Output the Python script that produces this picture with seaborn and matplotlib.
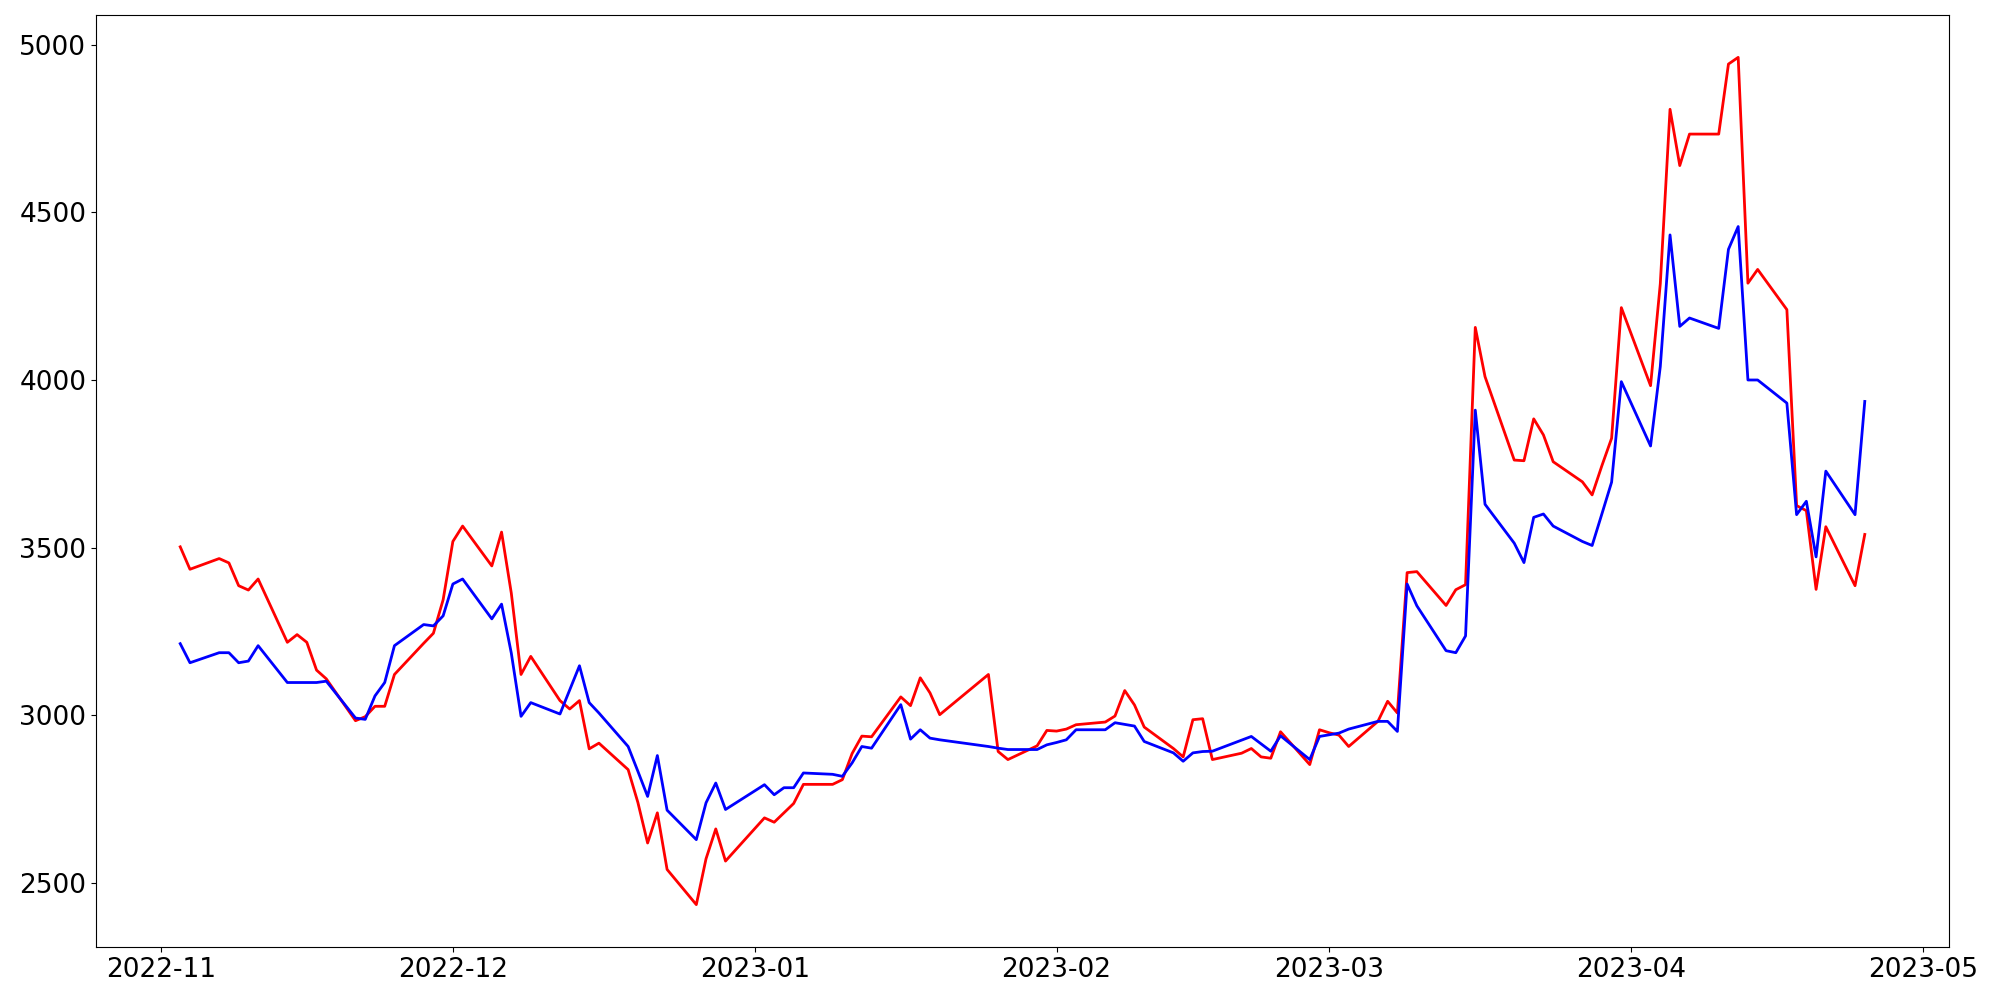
import pandas as pd
import matplotlib
matplotlib.use('Agg')
import matplotlib.pyplot as plt
import seaborn as sns

# trading days
nov_days = [3, 4, 7, 8, 9, 10, 11, 14, 15, 16, 17, 18, 21, 22, 23, 24, 25, 28, 29, 30]
dec_days = [1, 2, 5, 6, 7, 8, 9, 12, 13, 14, 15, 16, 19, 20, 21, 22, 23, 26, 27, 28, 29]
jan_days = [2, 3, 4, 5, 6, 9, 10, 11, 12, 13, 16, 17, 18, 19, 20, 25, 26, 27, 30, 31]
feb_days = [1, 2, 3, 6, 7, 8, 9, 10, 13, 14, 15, 16, 17, 20, 21, 22, 23, 24, 27, 28]
mar_days = [1, 2, 3, 6, 7, 8, 9, 10, 13, 14, 15, 16, 17, 20, 21, 22, 23, 24, 27, 28, 29, 30, 31]
apr_days = [3, 4, 5, 6, 7, 10, 11, 12, 13, 14, 17, 18, 19, 20, 21, 24, 25]

red_values = [
    3502, 3435, 3467, 3454, 3386, 3373, 3406, 3217, 3240, 3217, 3134, 3108, 2983, 2995, 3026, 3026, 3121, 3214, 3244, 3344,
    3518, 3564, 3445, 3546, 3364, 3121, 3175, 3043, 3018, 3043, 2899, 2916, 2837, 2739, 2618, 2708, 2539, 2434, 2571, 2660, 2564,
    2693, 2680, 2708, 2736, 2793, 2793, 2807, 2885, 2937, 2935, 3054, 3028, 3111, 3066, 3001, 3121, 2891, 2867, 2908, 2954,
    2952, 2958, 2971, 2979, 2997, 3073, 3030, 2964, 2900, 2875, 2986, 2989, 2867, 2886, 2900, 2875, 2871, 2950, 2852, 2956,
    2947, 2940, 2906, 2981, 3041, 3006, 3425, 3428, 3327, 3374, 3389, 4157, 4010, 3761, 3759, 3884, 3836, 3756, 3696, 3657, 3744, 3826, 4216,
    3983, 4287, 4808, 4640, 4734, 4734, 4943, 4963, 4289, 4330, 4210, 3625, 3610, 3375, 3562, 3386, 3539,
]

blue_values = [
    3213, 3156, 3186, 3186, 3156, 3161, 3207, 3097, 3097, 3097, 3097, 3101, 2991, 2987, 3057, 3097, 3207, 3270, 3266, 3296,
    3391, 3406, 3287, 3331, 3185, 2996, 3037, 3003, 3075, 3147, 3037, 3006, 2906, 2832, 2757, 2879, 2716, 2628, 2738, 2797, 2718,
    2792, 2762, 2783, 2783, 2827, 2823, 2817, 2857, 2906, 2901, 3031, 2928, 2956, 2931, 2926, 2906, 2901, 2897, 2897, 2911,
    2918, 2926, 2956, 2956, 2977, 2972, 2967, 2921, 2887, 2862, 2887, 2891, 2892, 2925, 2936, 2914, 2892, 2938, 2867, 2936,
    2941, 2946, 2958, 2981, 2981, 2951, 3391, 3326, 3192, 3186, 3236, 3910, 3629, 3513, 3455, 3590, 3600, 3564, 3518, 3506, 3600, 3695, 3995,
    3803, 4040, 4433, 4160, 4185, 4154, 4390, 4458, 4000, 4000, 3931, 3598, 3638, 3472, 3728, 3598, 3936,
]

months = [('2022-11', nov_days), ('2022-12', dec_days), ('2023-01', jan_days),
          ('2023-02', feb_days), ('2023-03', mar_days), ('2023-04', apr_days)]
dates = pd.to_datetime([f'{m}-{d:02d}' for m, days in months for d in days])

df = pd.DataFrame({'Date': dates, 'Red': red_values, 'Blue': blue_values})

fig, ax = plt.subplots(figsize=(20, 10), dpi=100)
sns.lineplot(data=df, x='Date', y='Red', color='red', linewidth=2, ax=ax)
sns.lineplot(data=df, x='Date', y='Blue', color='blue', linewidth=2, ax=ax)

ax.set_xlabel('')
ax.set_ylabel('')
ax.tick_params(labelsize=19)
plt.subplots_adjust(left=0.048, right=0.9745, top=0.985, bottom=0.053)
plt.savefig('out.png')
